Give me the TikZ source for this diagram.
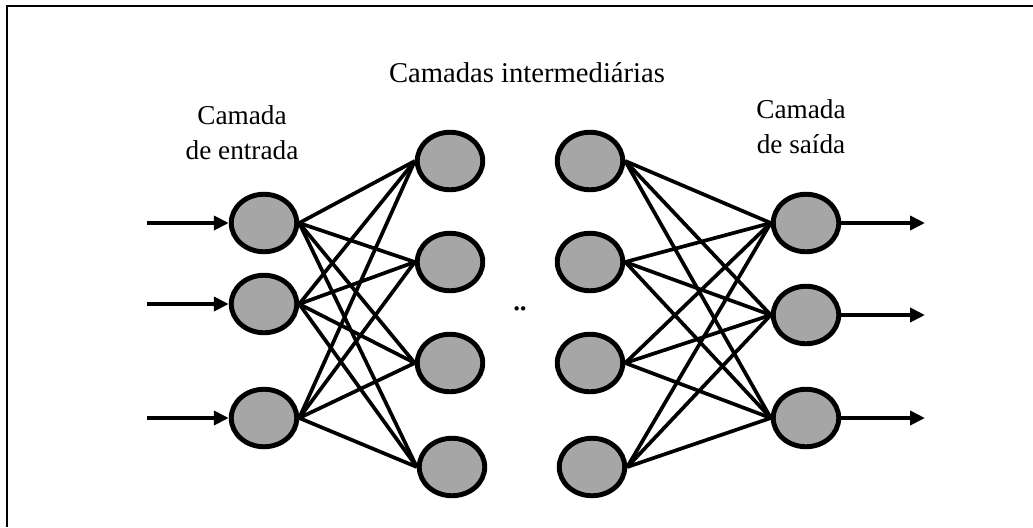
\documentclass[tikz,border=0pt]{standalone}
\usepackage{fontspec}
\setmainfont{Liberation Serif}
\usepackage{tikz}
\usetikzlibrary{shapes.geometric, arrows.meta, positioning}
\definecolor{neurongray}{RGB}{166,166,166}
\tikzset{
  neuronnode/.style={ellipse,draw=black,fill=neurongray,line width=2.8pt,inner sep=0pt,minimum width=1.31cm,minimum height=1.15cm},
  labelnode/.style={align=center,font=\fontsize{15.5}{20}\selectfont},
  titlenode/.style={font=\fontsize{16.3}{19}\selectfont},
  link/.style={line width=2.1pt,color=black},
  arr/.style={-{Triangle[length=3mm,width=2.8mm]},line width=2.2pt,color=black},
  framestyle/.style={line width=1.2pt,color=black}
}

\begin{document}
\begin{tikzpicture}[x=0.2mm,y=-0.2mm]
  \useasboundingbox (0,0) rectangle (1033,527);
  % frame (only top and left edges visible)
  \draw[framestyle] (1033,6) -- (7,6) -- (7,527);
  % titles
  \node[titlenode,anchor=base] (ttl) at (527,82) {Camadas intermediárias};
  \node[labelnode] (lin) at (242,133) {Camada\\de entrada};
  \node[labelnode] (lout) at (801,127) {Camada\\de saída};
  % input layer
  \node[neuronnode] (in1) at (264,223) {};
  \node[neuronnode] (in2) at (264,304) {};
  \node[neuronnode] (in3) at (264,418) {};
  % first hidden layer
  \node[neuronnode] (ha1) at (450,161) {};
  \node[neuronnode] (ha2) at (450,262) {};
  \node[neuronnode] (ha3) at (450,363) {};
  \node[neuronnode] (ha4) at (452,467) {};
  % last hidden layer
  \node[neuronnode] (hb1) at (590,161) {};
  \node[neuronnode] (hb2) at (590,262) {};
  \node[neuronnode] (hb3) at (590,363) {};
  \node[neuronnode] (hb4) at (592,467) {};
  % output layer
  \node[neuronnode] (out1) at (806,223) {};
  \node[neuronnode] (out2) at (806,315) {};
  \node[neuronnode] (out3) at (806,418) {};
  \node[font=\fontsize{21}{21}\selectfont,anchor=base] (dots) at (520,310) {.\kern-1.5pt.};
  % inputs and outputs
  \coordinate (x1) at (147,223);
  \coordinate (x2) at (147,304);
  \coordinate (x3) at (147,418);
  \coordinate (y1) at (925,223);
  \coordinate (y2) at (925,315);
  \coordinate (y3) at (925,418);
  \foreach \i in {1,2,3} {
    \draw[arr] (x\i) -- (in\i.west);
    \draw[arr] (out\i.east) -- (y\i);
  }
  % connections
  \foreach \i in {1,2,3}
    \foreach \j in {1,...,4}
      \draw[link] (in\i.east) -- (ha\j.west);
  \foreach \i in {1,...,4}
    \foreach \j in {1,2,3}
      \draw[link] (hb\i.east) -- (out\j.west);
\end{tikzpicture}
\end{document}
